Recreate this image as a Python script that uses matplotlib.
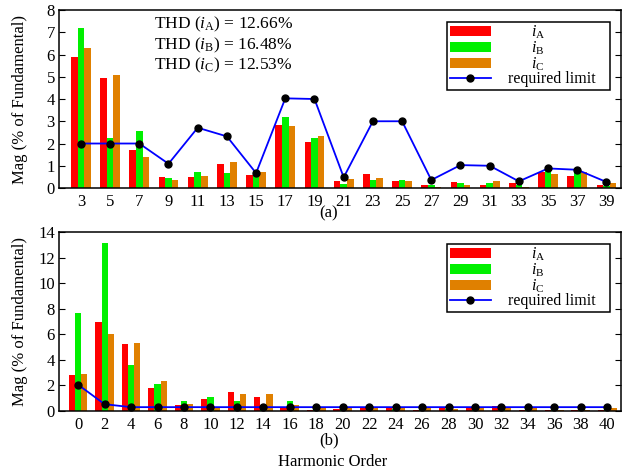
import numpy as np
import matplotlib
matplotlib.use("Agg")
import matplotlib.pyplot as plt

plt.rcParams['font.family'] = ['Liberation Serif', 'DejaVu Serif']
plt.rcParams['mathtext.fontset'] = 'custom'
plt.rcParams['mathtext.rm'] = 'Liberation Serif'
plt.rcParams['mathtext.it'] = 'Liberation Serif:italic'

# (a) odd harmonics 3..39
orders_a = [3, 5, 7, 9, 11, 13, 15, 17, 19, 21, 23, 25, 27, 29, 31, 33, 35, 37, 39]
ia_a = [5.88, 4.95, 1.69, 0.48, 0.48, 1.06, 0.60, 2.83, 2.05, 0.33, 0.64, 0.33, 0.15, 0.28, 0.15, 0.21, 0.70, 0.52, 0.15]
ib_a = [7.20, 2.26, 2.54, 0.43, 0.70, 0.66, 0.52, 3.19, 2.25, 0.18, 0.36, 0.36, 0.15, 0.24, 0.21, 0.15, 0.81, 0.67, 0.10]
ic_a = [6.30, 5.10, 1.39, 0.37, 0.55, 1.15, 0.70, 2.77, 2.32, 0.39, 0.43, 0.30, 0.06, 0.15, 0.33, 0.06, 0.64, 0.70, 0.21]
limit_a = [2.0, 2.0, 2.0, 1.09, 2.71, 2.32, 0.67, 4.03, 4.0, 0.48, 3.0, 3.0, 0.36, 1.03, 1.0, 0.30, 0.88, 0.82, 0.27]

# (b) even harmonics 0..40
orders_b = [0, 2, 4, 6, 8, 10, 12, 14, 16, 18, 20, 22, 24, 26, 28, 30, 32, 34, 36, 38, 40]
ia_b = [2.82, 6.95, 5.26, 1.76, 0.50, 0.95, 1.47, 1.13, 0.20, 0.10, 0.15, 0.20, 0.20, 0.10, 0.20, 0.20, 0.42, 0.10, 0.10, 0.10, 0.10]
ib_b = [7.68, 13.16, 3.58, 2.08, 0.81, 1.13, 0.81, 0.20, 0.76, 0.15, 0.15, 0.15, 0.15, 0.15, 0.15, 0.15, 0.15, 0.15, 0.15, 0.15, 0.15]
ic_b = [2.92, 6.00, 5.32, 2.37, 0.58, 0.20, 1.34, 1.34, 0.50, 0.20, 0.20, 0.20, 0.20, 0.20, 0.12, 0.20, 0.20, 0.20, 0.10, 0.10, 0.20]
limit_b = [2.05, 0.53, 0.30, 0.30, 0.30, 0.30, 0.30, 0.30, 0.30, 0.30, 0.30, 0.30, 0.30, 0.30, 0.30, 0.30, 0.30, 0.30, 0.30, 0.30, 0.30]

thd_labels = ["THD ($i_{\\mathrm{A}}$) = 12.66%",
              "THD ($i_{\\mathrm{B}}$) = 16.48%",
              "THD ($i_{\\mathrm{C}}$) = 12.53%"]

c_red = '#ff0000'
c_green = '#00f000'
c_orange = '#e08000'
c_line = '#0000ff'

fig = plt.figure(figsize=(6.33, 4.76), dpi=100)
ax1 = fig.add_axes([0.0932, 0.605, 0.888, 0.374])
ax2 = fig.add_axes([0.0932, 0.1366, 0.888, 0.376])


def draw(ax, x, a, b, c, lim, w):
    x = np.asarray(x, dtype=float)
    ba = ax.bar(x - w, a, w, color=c_red, zorder=2)
    bb = ax.bar(x, b, w, color=c_green, zorder=2)
    bc = ax.bar(x + w, c, w, color=c_orange, zorder=2)
    ln, = ax.plot(x, lim, color=c_line, lw=1.3, marker='o', ms=5, mfc='black',
                  mec='black', zorder=3)
    ax.set_xticks(x)
    ax.set_xticklabels([str(int(v)) for v in x])
    ax.tick_params(axis='x', length=0, pad=4, labelsize=12)
    ax.tick_params(axis='y', direction='in', left=True, right=True, length=4,
                   labelsize=12, pad=3)
    for s in ax.spines.values():
        s.set_linewidth(1.1)
    leg = ax.legend([ba, bb, bc, ln],
                    [r'$\qquad i_{\mathrm{A}}$', r'$\qquad i_{\mathrm{B}}$',
                     r'$\qquad i_{\mathrm{C}}$', 'required limit   '],
                    loc='upper right', bbox_to_anchor=(0.98, 0.935),
                    borderaxespad=0, fontsize=11.5, frameon=True, fancybox=False,
                    edgecolor='black', framealpha=1, labelspacing=-0.1,
                    borderpad=0.15, handlelength=2.6, handletextpad=1.05,
                    handleheight=0.6)
    leg.get_frame().set_linewidth(1.1)
    ax.set_ylabel('Mag (% of Fundamental)', fontsize=12)
    ax.yaxis.set_label_coords(-0.056, 0.5)


draw(ax1, orders_a, ia_a, ib_a, ic_a, limit_a, 0.45)
ax1.set_xlim(1.5, 40)
ax1.set_ylim(0, 8)
ax1.set_yticks(range(0, 9))
ax1.text(0.292, 0.975, "\n".join(thd_labels), transform=ax1.transAxes,
         ha='center', va='top', fontsize=12.5, linespacing=1.12)

draw(ax2, orders_b, ia_b, ib_b, ic_b, limit_b, 0.47)
ax2.set_xlim(-1.45, 41.05)
ax2.set_ylim(0, 14)
ax2.set_yticks(range(0, 15, 2))

fig.text(329 / 633, 1 - 213 / 476, '(a)', ha='center', va='center', fontsize=12)
fig.text(329 / 633, 1 - 440 / 476, '(b)', ha='center', va='center', fontsize=12)
fig.text(333 / 633, 1 - 462 / 476, 'Harmonic Order', ha='center', va='center', fontsize=12)

fig.savefig('out.png', dpi=100)
